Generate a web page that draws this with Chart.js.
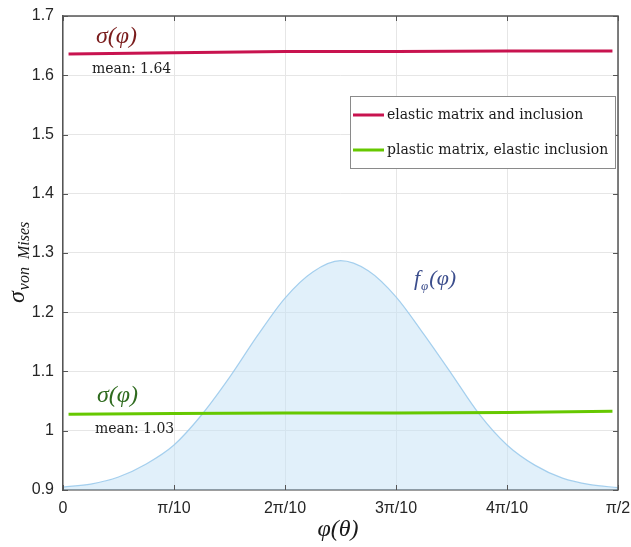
<!DOCTYPE html>
<html lang="en">
  <head>
    <meta charset="UTF-8" />
    <title>von Mises stress vs. orientation</title>
    <style>
      html,
      body {
        margin: 0;
        padding: 0;
        background: white;
      }
      .container {
        position: relative;
        width: 631px;
        height: 547px;
      }
    </style>
  </head>
  <body>
    <div class="container"><canvas id="chart"></canvas></div>

    <script src="https://cdn.jsdelivr.net/npm/chart.js@4.4.0/dist/chart.umd.min.js"></script>
    <script>
      // x is measured in units of pi/10 (0 .. 5 => 0 .. pi/2)
      const X_TICK_LABELS = ["0", "π/10", "2π/10", "3π/10", "4π/10", "π/2"];

      const ELASTIC_X = [0.05, 1, 2, 3, 4, 4.95];
      const ELASTIC_Y = [1.636, 1.638, 1.64, 1.64, 1.641, 1.641];

      const PLASTIC_X = [0.05, 1, 2, 3, 4, 4.95];
      const PLASTIC_Y = [1.028, 1.029, 1.03, 1.03, 1.031, 1.033];

      // orientation density, shown on the same axes
      const DENSITY_X = [0, 0.25, 0.5, 0.75, 1, 1.25, 1.5, 1.75, 2, 2.25, 2.5, 2.75, 3, 3.25, 3.5, 3.75, 4, 4.25, 4.5, 4.75, 5];
      const DENSITY_Y = [0.905, 0.91, 0.922, 0.944, 0.976, 1.027, 1.09, 1.16, 1.224, 1.268, 1.287, 1.27, 1.226, 1.163, 1.096, 1.028, 0.976, 0.942, 0.92, 0.909, 0.904];

      const ELASTIC_MEAN = 1.64;
      const PLASTIC_MEAN = 1.03;

      const toPoints = (xs, ys) => xs.map((x, i) => ({ x, y: ys[i] }));

      const RED = "#c8134f";
      const GREEN = "#66c800";
      const SERIF = '"Liberation Serif", "DejaVu Serif", serif';
      const WIDE_SERIF = '"DejaVu Serif", "Liberation Serif", serif';
      const SANS = '"Liberation Sans", Arial, sans-serif';

      // box, inward ticks, legend and math labels
      const decorations = {
        id: "decorations",
        afterDraw(chart) {
          const { ctx, chartArea: a, scales } = chart;
          ctx.save();

          // closing box
          ctx.strokeStyle = "#555";
          ctx.lineWidth = 1.5;
          ctx.beginPath();
          ctx.moveTo(a.left, a.top);
          ctx.lineTo(a.right, a.top);
          ctx.lineTo(a.right, a.bottom);
          ctx.stroke();

          // inward tick marks on all four sides
          ctx.lineWidth = 1;
          ctx.beginPath();
          for (const t of scales.x.ticks) {
            const px = Math.round(scales.x.getPixelForValue(t.value)) + 0.5;
            ctx.moveTo(px, a.bottom);
            ctx.lineTo(px, a.bottom - 5);
            ctx.moveTo(px, a.top);
            ctx.lineTo(px, a.top + 5);
          }
          for (const t of scales.y.ticks) {
            const py = Math.round(scales.y.getPixelForValue(t.value)) + 0.5;
            ctx.moveTo(a.left, py);
            ctx.lineTo(a.left + 5, py);
            ctx.moveTo(a.right, py);
            ctx.lineTo(a.right - 5, py);
          }
          ctx.stroke();

          // legend
          const entries = chart.data.datasets.filter((d) => d.inLegend);
          ctx.fillStyle = "white";
          ctx.fillRect(350.5, 96.5, 265, 72);
          ctx.strokeStyle = "#8a8a8a";
          ctx.strokeRect(350.5, 96.5, 265, 72);
          entries.forEach((d, i) => {
            const y = 115 + i * 35;
            ctx.strokeStyle = d.borderColor;
            ctx.lineWidth = 3;
            ctx.beginPath();
            ctx.moveTo(353, y);
            ctx.lineTo(384, y);
            ctx.stroke();
            ctx.fillStyle = "#1a1a1a";
            ctx.font = "14px " + WIDE_SERIF;
            ctx.textAlign = "left";
            ctx.textBaseline = "middle";
            ctx.fillText(d.label, 387, y);
          });

          ctx.textBaseline = "alphabetic";
          ctx.textAlign = "left";

          // series captions
          ctx.font = "italic 24px " + SERIF;
          ctx.fillStyle = "#7a1c1c";
          ctx.fillText("σ(φ)", 96, 43);
          ctx.fillStyle = "#2f6b1f";
          ctx.fillText("σ(φ)", 97, 402);

          ctx.font = "14px " + WIDE_SERIF;
          ctx.fillStyle = "#222";
          ctx.fillText("mean: " + ELASTIC_MEAN.toFixed(2), 92, 73);
          ctx.fillText("mean: " + PLASTIC_MEAN.toFixed(2), 95, 433);

          // density caption f_φ(φ)
          ctx.fillStyle = "#3b4d8c";
          ctx.font = "italic 22px " + SERIF;
          let x = 414;
          ctx.fillText("f", x, 285);
          x += ctx.measureText("f").width + 1;
          ctx.font = "italic 13px " + SERIF;
          ctx.fillText("φ", x, 290);
          x += ctx.measureText("φ").width + 1;
          ctx.font = "italic 22px " + SERIF;
          ctx.fillText("(φ)", x, 285);

          // x axis title
          ctx.fillStyle = "#1a1a1a";
          ctx.font = "italic 24px " + SERIF;
          ctx.textAlign = "center";
          ctx.fillText("φ(θ)", 338, 536);

          // y axis title σ_{von Mises}
          ctx.translate(24, 303);
          ctx.rotate(-Math.PI / 2);
          ctx.textAlign = "left";
          ctx.font = "italic 24px " + SERIF;
          ctx.fillText("σ", 0, 0);
          const sw = ctx.measureText("σ").width;
          ctx.font = "italic 16px " + SERIF;
          ctx.fillText("von  Mises", sw + 1, 5);

          ctx.restore();
        },
      };

      new Chart(document.getElementById("chart"), {
        type: "line",
        data: {
          datasets: [
            {
              label: "fφ(φ)",
              data: toPoints(DENSITY_X, DENSITY_Y),
              borderColor: "rgba(150, 200, 235, 0.85)",
              borderWidth: 1.2,
              backgroundColor: "rgba(196, 226, 246, 0.5)",
              fill: "start",
              cubicInterpolationMode: "monotone",
              pointRadius: 0,
              order: 2,
            },
            {
              label: "elastic matrix and inclusion",
              data: toPoints(ELASTIC_X, ELASTIC_Y),
              borderColor: RED,
              borderWidth: 3,
              pointRadius: 0,
              fill: false,
              inLegend: true,
              order: 0,
            },
            {
              label: "plastic matrix, elastic inclusion",
              data: toPoints(PLASTIC_X, PLASTIC_Y),
              borderColor: GREEN,
              borderWidth: 3,
              pointRadius: 0,
              fill: false,
              inLegend: true,
              order: 0,
            },
          ],
        },
        options: {
          responsive: true,
          maintainAspectRatio: false,
          animation: false,
          layout: { padding: { top: 16, right: 13, left: 0, bottom: 0 } },
          plugins: {
            legend: { display: false },
            tooltip: { enabled: false },
          },
          scales: {
            x: {
              type: "linear",
              min: 0,
              max: 5,
              afterFit: (s) => {
                s.height = 57;
                s.paddingLeft = 0;
                s.paddingRight = 0;
              },
              ticks: {
                stepSize: 1,
                autoSkip: false,
                maxRotation: 0,
                padding: 9,
                color: "#262626",
                font: { family: SANS, size: 16 },
                callback: (v) => X_TICK_LABELS[v],
              },
              grid: { color: "#e6e6e6", drawTicks: false },
              border: { color: "#555", width: 1.5 },
            },
            y: {
              min: 0.9,
              max: 1.7,
              afterFit: (s) => {
                s.width = 63;
                s.paddingTop = 0;
                s.paddingBottom = 0;
              },
              ticks: {
                stepSize: 0.1,
                padding: 9,
                color: "#262626",
                font: { family: SANS, size: 16 },
                callback: (v) => String(Number(v.toFixed(1))),
              },
              grid: { color: "#e6e6e6", drawTicks: false },
              border: { color: "#555", width: 1.5 },
            },
          },
        },
        plugins: [decorations],
      });
    </script>
  </body>
</html>
